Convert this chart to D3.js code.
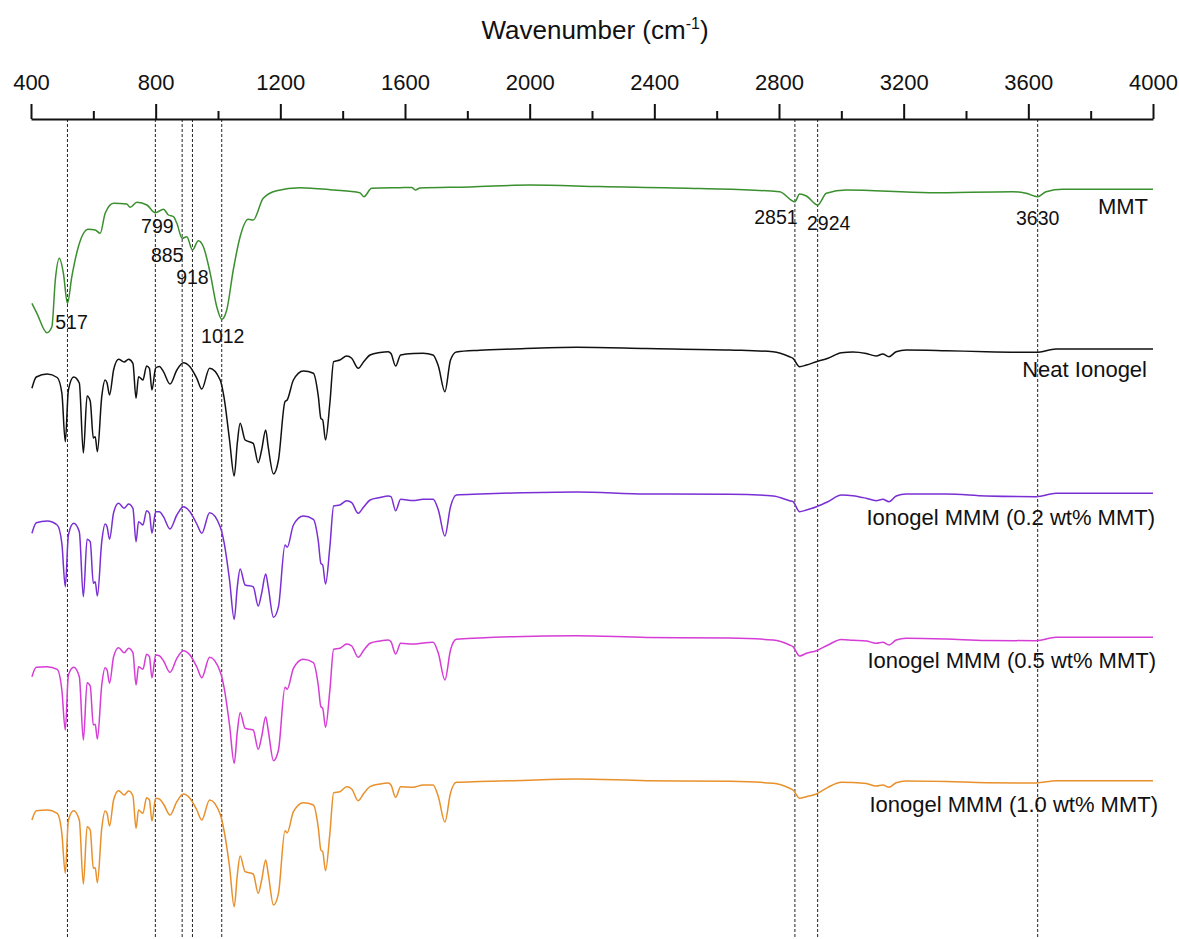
<!DOCTYPE html>
<html>
<head>
<meta charset="utf-8">
<script src="https://cdn.jsdelivr.net/npm/d3@7"></script>
<style>
  body { margin: 0; background: #fff; }
  svg { display: block; font-family: "Liberation Sans", Arial, sans-serif; }
</style>
</head>
<body>
<div id="chart"></div>
<script>
// FTIR spectra, stacked with vertical offsets (transmittance, a.u.)

// MMT spectrum: own wavenumber grid
const mmtWn = [403, 419, 451, 467, 478, 491, 504, 517, 531, 552, 584, 606, 622, 638, 665, 707, 718, 740, 772, 799,
  825, 841, 857, 868, 885, 900, 918, 937, 953, 975, 996, 1012, 1028, 1049, 1071, 1097, 1113, 1145, 1188, 1263,
  1370, 1455, 1468, 1493, 1584, 1622, 1633, 1648, 1808, 2001, 2225, 2546, 2802, 2851, 2866, 2888, 2924, 2952, 3016, 3283,
  3550, 3593, 3630, 3657, 3710, 4000];
const mmtT = [63.57, 62.57, 60.63, 61.23, 65.9, 68.07, 66.57, 63.57, 66.23, 69.23, 70.97, 70.9, 70.57, 72.57, 73.57, 73.5, 73.17, 73.67, 73.4, 72.63,
  72.97, 72.4, 72.23, 71.57, 70.07, 70.23, 68.9, 69.83, 69.23, 66.57, 63.23, 61.97, 62.9, 66.9, 70.23, 71.97, 71.9, 74.07, 74.83, 75.13,
  74.9, 74.63, 74.23, 75.07, 75.13, 75.15, 74.9, 75.1, 75.2, 75.4, 75.25, 75.05, 74.73, 73.73, 74.5, 74.3, 73.4, 74.57, 74.9, 74.63,
  74.73, 74.57, 74.23, 74.73, 74.97, 74.97];

// ionogel spectra share one wavenumber grid
const gelWn = [403, 417, 452, 484, 499, 510, 520, 537, 555, 568, 580, 590, 600, 606, 613, 627, 638, 644, 652, 665,
  681, 699, 713, 727, 737, 745, 759, 771, 780, 788, 800, 812, 825, 846, 868, 889, 910, 932, 948, 973,
  1007, 1019, 1037, 1052, 1062, 1071, 1087, 1113, 1129, 1140, 1153, 1161, 1178, 1194, 1215, 1222, 1242, 1274, 1306, 1322,
  1330, 1336, 1345, 1359, 1371, 1391, 1413, 1429, 1450, 1468, 1488, 1520, 1546, 1555, 1570, 1586, 1626, 1658, 1690, 1707,
  1728, 1746, 1765, 1840, 1947, 2150, 2375, 2642, 2781, 2834, 2845, 2866, 2888, 2920, 2957, 3000, 3037, 3080, 3112, 3133,
  3153, 3176, 3208, 3337, 3465, 3625, 3689, 4000];

const neatT = [55.07, 56.2, 56.5, 56.15, 54.6, 49.73, 54.9, 56.2, 55.6, 48.6, 54.3, 53.8, 50.1, 50.23, 48.73, 54.23, 55.9, 55.6, 54.4, 56.9,
  57.97, 57.7, 57.97, 57.57, 54.07, 56.23, 55.9, 57.3, 57.07, 54.9, 57.1, 57.25, 56.73, 55.5, 56.9, 57.63, 57.23, 56.07, 55.0, 57.07,
  55.9, 54.23, 49.9, 46.3, 49.6, 51.57, 49.9, 49.57, 47.63, 48.9, 50.9, 49.23, 46.5, 47.9, 53.73, 53.9, 55.9, 56.8, 56.57, 54.23,
  52.07, 51.9, 49.9, 53.6, 57.73, 57.9, 58.3, 58.07, 57.07, 57.75, 58.4, 58.65, 58.73, 58.55, 57.3, 58.4, 58.55, 58.57, 58.4, 57.3,
  54.73, 57.9, 58.7, 58.87, 59.0, 59.17, 59.05, 58.9, 58.73, 58.23, 58.07, 57.23, 57.4, 57.73, 58.07, 58.63, 58.7, 58.55, 58.3, 58.5,
  58.23, 58.73, 58.9, 58.83, 58.73, 58.67, 59.0, 59.0];

const mmm02T = [40.57, 41.63, 41.8, 41.4, 39.57, 35.23, 40.4, 41.57, 40.73, 34.23, 39.97, 39.73, 35.57, 35.73, 34.3, 39.73, 41.5, 41.23, 39.97, 42.63,
  43.57, 43.07, 43.5, 43.07, 39.73, 41.73, 41.4, 42.83, 42.57, 40.57, 42.73, 42.73, 42.23, 41.0, 42.4, 43.23, 42.73, 41.5, 40.57, 42.63,
  41.23, 39.73, 35.9, 31.97, 35.23, 37.0, 35.4, 35.23, 33.3, 34.57, 36.5, 35.23, 32.17, 33.23, 39.4, 39.17, 41.4, 42.3, 41.97, 39.73,
  37.57, 37.4, 35.5, 39.23, 43.3, 43.4, 43.83, 43.63, 42.57, 43.23, 43.9, 44.15, 44.3, 44.23, 42.83, 43.97, 43.85, 43.97, 43.97, 42.9,
  40.3, 43.23, 44.4, 44.5, 44.6, 44.7, 44.5, 44.48, 44.3, 43.83, 43.73, 42.73, 42.9, 43.23, 43.73, 44.4, 44.33, 44.07, 43.83, 43.97,
  43.73, 44.3, 44.5, 44.5, 44.3, 44.23, 44.57, 44.57];

const mmm05T = [26.23, 27.17, 27.23, 26.97, 24.9, 20.9, 26.4, 27.17, 26.23, 19.9, 25.63, 25.3, 21.4, 21.47, 20.0, 25.4, 27.13, 26.9, 25.57, 28.23,
  29.13, 28.63, 29.07, 28.63, 25.4, 27.23, 26.97, 28.47, 28.23, 26.13, 28.4, 28.33, 27.83, 26.67, 28.07, 28.83, 28.4, 27.2, 26.13, 28.17,
  26.73, 25.23, 21.4, 17.57, 20.73, 22.63, 21.07, 20.9, 18.97, 20.23, 22.23, 20.9, 17.83, 18.9, 25.17, 24.97, 27.07, 27.97, 27.63, 25.3,
  23.23, 23.07, 21.17, 24.9, 28.97, 29.07, 29.5, 29.3, 28.17, 28.9, 29.57, 29.8, 29.9, 29.73, 28.5, 29.57, 29.5, 29.6, 29.67, 28.57,
  25.9, 28.9, 29.97, 30.1, 30.23, 30.33, 30.15, 30.1, 29.9, 29.4, 29.23, 28.3, 28.57, 28.83, 29.4, 29.95, 29.87, 29.8, 29.57, 29.67,
  29.4, 29.9, 30.07, 30.0, 29.85, 29.83, 30.17, 30.17];

const mmm10T = [11.9, 12.83, 12.9, 12.57, 10.57, 6.57, 11.9, 12.83, 11.9, 5.5, 11.23, 10.9, 7.07, 7.13, 5.63, 11.07, 12.8, 12.57, 11.3, 13.9,
  14.83, 14.4, 14.8, 14.33, 11.07, 12.9, 12.57, 14.13, 13.9, 11.8, 14.07, 14.0, 13.5, 12.4, 13.73, 14.5, 14.07, 12.9, 11.9, 13.9,
  12.47, 10.9, 7.23, 3.23, 6.4, 8.3, 6.73, 6.5, 4.57, 5.9, 7.9, 6.57, 3.4, 4.57, 10.83, 10.63, 12.73, 13.63, 13.4, 11.07,
  8.9, 8.73, 6.83, 10.57, 14.63, 14.73, 15.23, 15.0, 13.83, 14.57, 15.23, 15.5, 15.6, 15.4, 14.17, 15.23, 15.17, 15.4, 15.4, 14.23,
  11.7, 14.6, 15.67, 15.75, 15.83, 16.0, 15.83, 15.78, 15.57, 15.07, 14.9, 14.07, 14.23, 14.5, 15.17, 15.67, 15.65, 15.55, 15.3, 15.4,
  15.17, 15.63, 15.8, 15.75, 15.63, 15.6, 15.83, 15.83];

const seriesNames = ["MMT", "Neat Ionogel", "Ionogel MMM (0.2 wt% MMT)", "Ionogel MMM (0.5 wt% MMT)", "Ionogel MMM (1.0 wt% MMT)"];
const seriesColors = ["#3a8f2e", "#111111", "#7a2fd4", "#d63cd6", "#e8912c"];

// marked bands (dashed guide lines + labels on the MMT trace)
const peakWn = [517, 799, 885, 918, 1012, 2851, 2924, 3630];

const majorTicks = d3.range(400, 4001, 400);
const minorTicks = d3.range(600, 4000, 400);

const width = 1179, height = 939;
const margin = { top: 119, left: 31, right: 26, bottom: 0 };

const svg = d3.select('#chart').append('svg')
  .attr('width', width)
  .attr('height', height);

const x = d3.scaleLinear().domain([400, 4000]).range([margin.left, width - margin.right]);
const y = d3.scaleLinear().domain([0, 82]).range([height, margin.top]);

// dashed guide lines
svg.append('g')
  .selectAll('line')
  .data(peakWn)
  .join('line')
  .attr('x1', d => x(d)).attr('x2', d => x(d))
  .attr('y1', margin.top).attr('y2', height)
  .attr('stroke', '#222')
  .attr('stroke-width', 1)
  .attr('stroke-dasharray', '3,2');

// spectra
const series = [
  { wn: mmtWn, t: mmtT },
  { wn: gelWn, t: neatT },
  { wn: gelWn, t: mmm02T },
  { wn: gelWn, t: mmm05T },
  { wn: gelWn, t: mmm10T }
];

const line = d3.line()
  .x(d => x(d[0]))
  .y(d => y(d[1]))
  .curve(d3.curveMonotoneX);

svg.append('g')
  .selectAll('path')
  .data(series)
  .join('path')
  .attr('d', s => line(s.wn.map((w, i) => [w, s.t[i]])))
  .attr('fill', 'none')
  .attr('stroke', (s, i) => seriesColors[i])
  .attr('stroke-width', 1.5)
  .attr('stroke-linejoin', 'round');

// series labels (right side)
const labelPos = [
  { x: 1148, y: 214 },
  { x: 1147, y: 377 },
  { x: 1155, y: 525 },
  { x: 1156, y: 668 },
  { x: 1158, y: 812 }
];
svg.append('g')
  .selectAll('text')
  .data(seriesNames)
  .join('text')
  .attr('x', (d, i) => labelPos[i].x)
  .attr('y', (d, i) => labelPos[i].y)
  .attr('text-anchor', 'end')
  .attr('font-size', '22px')
  .attr('fill', '#111')
  .text(d => d);

// peak labels, offsets relative to each band line
const peakOffset = {
  517: { dx: 4, y: 329 }, 799: { dx: 2, y: 233 }, 885: { dx: -15, y: 262 }, 918: { dx: 0, y: 284 },
  1012: { dx: 1, y: 343 }, 2851: { dx: -19, y: 224 }, 2924: { dx: 11, y: 230 }, 3630: { dx: 0, y: 225 }
};
svg.append('g')
  .selectAll('text')
  .data(peakWn)
  .join('text')
  .attr('x', d => x(d) + peakOffset[d].dx)
  .attr('y', d => peakOffset[d].y)
  .attr('text-anchor', 'middle')
  .attr('font-size', '19.5px')
  .attr('fill', '#111')
  .text(d => d);

// top axis
const axisG = svg.append('g').attr('transform', `translate(0,${margin.top})`);
axisG.call(d3.axisTop(x).tickValues(majorTicks).tickSize(15).tickSizeOuter(0).tickPadding(14).tickFormat(d3.format('d')));
axisG.select('.domain').attr('stroke-width', 2).attr('stroke', '#111');
axisG.selectAll('.tick line').attr('stroke-width', 2).attr('stroke', '#111');
axisG.selectAll('.tick text')
  .attr('font-size', '22px')
  .attr('font-family', '"Liberation Sans", Arial, sans-serif')
  .attr('fill', '#111');

const minorG = svg.append('g').attr('transform', `translate(0,${margin.top})`);
minorG.call(d3.axisTop(x).tickValues(minorTicks).tickSize(8).tickSizeOuter(0).tickFormat(''));
minorG.select('.domain').remove();
minorG.selectAll('.tick line').attr('stroke-width', 2).attr('stroke', '#111');

// axis title
const title = svg.append('text')
  .attr('x', 595)
  .attr('y', 39)
  .attr('text-anchor', 'middle')
  .attr('font-size', '26px')
  .attr('fill', '#111');
title.append('tspan').text('Wavenumber (cm');
title.append('tspan').attr('dy', -10).attr('font-size', '16px').text('-1');
title.append('tspan').attr('dy', 10).text(')');
</script>
</body>
</html>
